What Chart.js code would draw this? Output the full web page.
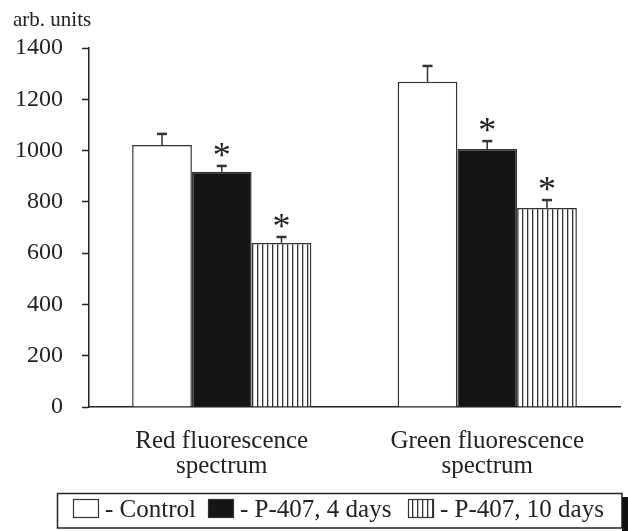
<!DOCTYPE html>
<html>
<head>
<meta charset="utf-8">
<script src="https://cdn.jsdelivr.net/npm/chart.js@4.4.1/dist/chart.umd.min.js"></script>
<style>
  html, body { margin: 0; padding: 0; background: #fff; }
  #wrap { width: 628px; height: 531px; position: relative; }
</style>
</head>
<body>
<div id="wrap"><canvas id="chart" width="628" height="531"></canvas></div>
<script>
// Chart data
const categories = [['Red fluorescence', 'spectrum'], ['Green fluorescence', 'spectrum']];
const seriesNames = ['Control', 'P-407, 4 days', 'P-407, 10 days'];
const controlValues = [1022, 1268];
const days4Values = [917, 1006];
const days10Values = [640, 776];
const controlErrors = [43, 62];
const days4Errors = [23, 31];
const days10Errors = [23, 31];
const significant = [false, true, true];
const yMin = 0, yMax = 1400, yStep = 200;
const yUnit = 'arb. units';

const SERIF = '"Liberation Serif", "Times New Roman", serif';
const INK = '#222';

// vertical hatch fill for the 10 days bars
function makeHatch() {
  const c = document.createElement('canvas');
  c.width = 5; c.height = 10;
  const g = c.getContext('2d');
  g.fillStyle = '#fff';
  g.fillRect(0, 0, 5, 10);
  g.fillStyle = '#333';
  g.fillRect(2, 0, 1.3, 10);
  return g.createPattern(c, 'repeat');
}
const hatch = makeHatch();
const fills = ['#ffffff', '#151515', hatch];
const errors = [controlErrors, days4Errors, days10Errors];

// error bars (upper half) + significance stars
const errorBarPlugin = {
  id: 'errorBars',
  afterDatasetsDraw(chart) {
    const ctx = chart.ctx;
    const y = chart.scales.y;
    ctx.save();
    chart.data.datasets.forEach((ds, i) => {
      const meta = chart.getDatasetMeta(i);
      meta.data.forEach((bar, j) => {
        const top = y.getPixelForValue(ds.data[j] + errors[i][j]);
        ctx.strokeStyle = '#333';
        ctx.lineWidth = 1.5;
        ctx.beginPath();
        ctx.moveTo(bar.x, bar.y);
        ctx.lineTo(bar.x, top);
        ctx.stroke();
        ctx.lineWidth = 2.5;
        ctx.beginPath();
        ctx.moveTo(bar.x - 5, top);
        ctx.lineTo(bar.x + 5, top);
        ctx.stroke();
        if (significant[i]) {
          ctx.fillStyle = INK;
          ctx.font = '36px ' + SERIF;
          ctx.textAlign = 'center';
          ctx.textBaseline = 'alphabetic';
          ctx.fillText('*', bar.x, top + 1);
        }
      });
    });
    ctx.restore();
  }
};

// unit label + boxed legend at the bottom
const decorPlugin = {
  id: 'decor',
  afterDraw(chart) {
    const ctx = chart.ctx;
    ctx.save();
    ctx.fillStyle = INK;
    ctx.font = '21px ' + SERIF;
    ctx.textAlign = 'left';
    ctx.textBaseline = 'middle';
    ctx.fillText(yUnit, 13, 20);

    // legend frame with shadow on the right
    ctx.strokeStyle = '#222';
    ctx.lineWidth = 1.5;
    ctx.strokeRect(57.5, 493.5, 564.5, 34.5);
    ctx.fillStyle = '#111';
    ctx.fillRect(622, 497, 6, 34);

    const swatchX = [73, 208, 408];
    ctx.font = '25px ' + SERIF;
    seriesNames.forEach((name, i) => {
      const sx = swatchX[i];
      ctx.fillStyle = fills[i];
      ctx.fillRect(sx, 499, 26, 19);
      ctx.strokeStyle = '#333';
      ctx.lineWidth = 1.2;
      ctx.strokeRect(sx + 0.5, 499.5, 25, 18);
      ctx.fillStyle = INK;
      ctx.fillText('- ' + name, sx + 32, 510);
    });
    ctx.restore();
  }
};

const ctx = document.getElementById('chart').getContext('2d');
new Chart(ctx, {
  type: 'bar',
  data: {
    labels: categories,
    datasets: [controlValues, days4Values, days10Values].map((vals, i) => ({
      label: seriesNames[i],
      data: vals,
      backgroundColor: fills[i],
      borderColor: '#333',
      borderWidth: 1.5,
      borderSkipped: 'bottom',
      barPercentage: 1.0,
      categoryPercentage: 0.675,
    })),
  },
  options: {
    responsive: false,
    animation: false,
    layout: { padding: { top: 48, left: 0, right: 8, bottom: 0 } },
    plugins: {
      legend: { display: false },
      tooltip: { enabled: false },
      title: { display: false },
    },
    scales: {
      x: {
        grid: { display: false },
        border: { display: true, color: '#222', width: 1.5 },
        ticks: {
          color: INK,
          font: { family: SERIF, size: 25, lineHeight: 1.0 },
          padding: 14,
          maxRotation: 0,
        },
        afterFit(scale) { scale.height = 124; },
      },
      y: {
        min: yMin,
        max: yMax,
        grid: { drawOnChartArea: false, drawTicks: true, tickLength: 7, color: '#222', tickWidth: 1.5 },
        border: { display: true, color: '#222', width: 1.5 },
        ticks: {
          stepSize: yStep,
          color: INK,
          font: { family: SERIF, size: 24 },
          padding: 19,
          callback: (v) => String(v),
        },
        afterFit(scale) { scale.width = 89; },
      },
    },
  },
  plugins: [errorBarPlugin, decorPlugin],
});
</script>
</body>
</html>
